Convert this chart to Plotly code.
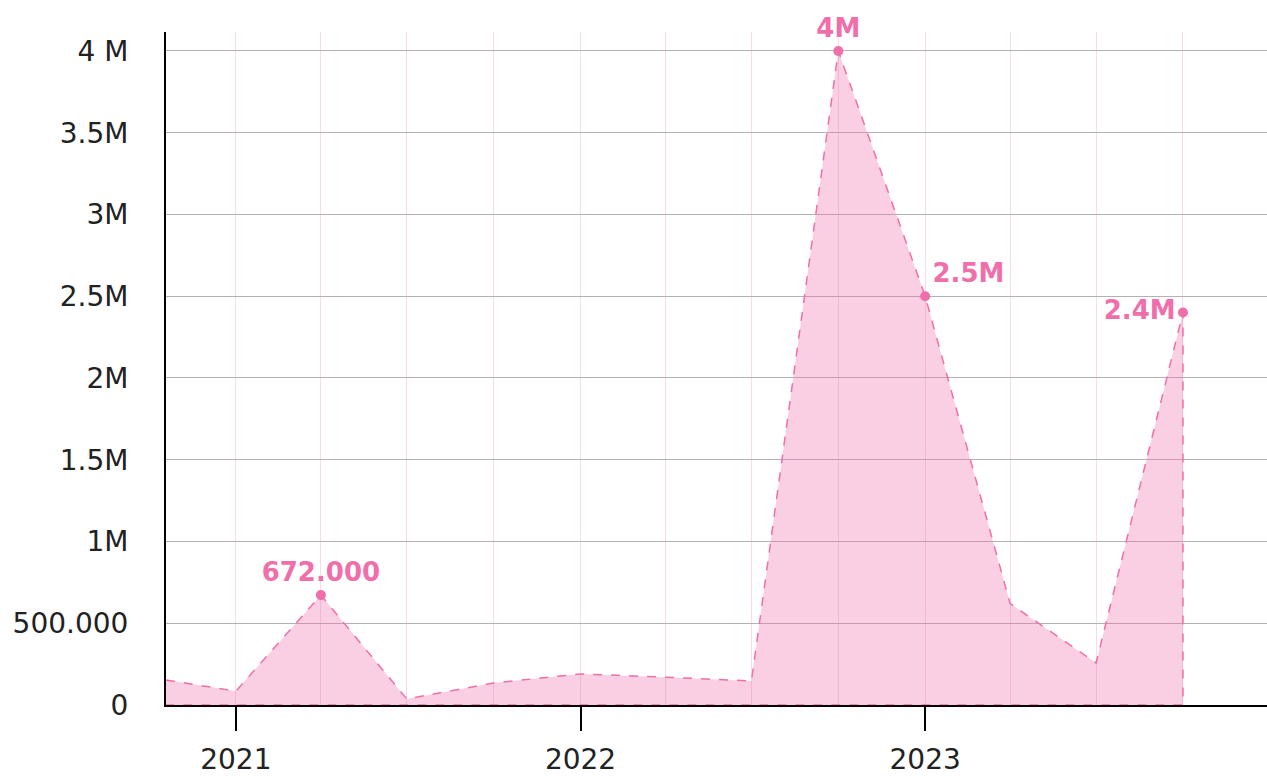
import plotly.graph_objects as go

# Quarterly values
dates = ["2020-10-19", "2021-01-01", "2021-04-01", "2021-07-01", "2021-10-01",
         "2022-01-01", "2022-04-01", "2022-07-01", "2022-10-01",
         "2023-01-01", "2023-04-01", "2023-07-01", "2023-10-01"]
values = [153000, 85000, 672000, 37000, 135000,
          190000, 170000, 147000, 4000000,
          2500000, 620000, 257000, 2400000]

# Highlighted points and their labels
label_dates = ["2021-04-01", "2022-10-01", "2023-01-01", "2023-10-01"]
label_values = [672000, 4000000, 2500000, 2400000]
label_text = ["672.000", "4M", "2.5M", "2.4M"]
label_pos = ["top center", "top center", "top right", "middle left"]

y_ticks = [0, 500000, 1000000, 1500000, 2000000, 2500000, 3000000, 3500000, 4000000]
y_tick_text = ["0", "500.000", "1M", "1.5M", "2M", "2.5M", "3M", "3.5M", "4 M"]

PINK = "#f06ea9"
FONT = "DejaVu Sans, sans-serif"

# Close the area polygon down to the baseline at both ends
area_x = dates + [dates[-1], dates[0]]
area_y = values + [0, 0]

fig = go.Figure()
fig.add_trace(go.Scatter(
    x=area_x, y=area_y, mode="lines", fill="toself",
    fillcolor="rgba(240,110,169,0.33)",
    line=dict(color=PINK, width=1.5, dash="dash"),
    hoverinfo="skip", showlegend=False,
))
fig.add_trace(go.Scatter(
    x=label_dates, y=label_values, mode="markers+text",
    marker=dict(color=PINK, size=10),
    text=label_text, textposition=label_pos,
    textfont=dict(family=FONT, size=26, color=PINK, weight="bold"),
    showlegend=False, cliponaxis=False,
))

fig.update_layout(
    width=1267, height=776,
    margin=dict(l=166, r=0, t=32, b=71),
    paper_bgcolor="white", plot_bgcolor="white",
    font=dict(family=FONT, size=28, color="#222"),
)
fig.update_xaxes(
    type="date", range=["2020-10-19", "2023-12-29"],
    dtick="M12", tick0="2021-01-01", tickformat="%Y",
    ticks="outside", ticklen=24, tickwidth=2, tickcolor="black",
    ticklabelstandoff=4,
    showgrid=True, gridcolor="#f7dbe7", gridwidth=1,
    minor=dict(dtick="M3", tick0="2021-01-01", showgrid=True,
               gridcolor="#f7dbe7", gridwidth=1, ticks=""),
    showline=True, linecolor="black", linewidth=2,
    tickfont=dict(family=FONT, size=28, color="#222"),
    zeroline=False,
)
fig.update_yaxes(
    range=[0, 4116000],
    tickvals=y_ticks, ticktext=y_tick_text,
    showgrid=True, gridcolor="#b5b0b3", gridwidth=1,
    showline=True, linecolor="black", linewidth=2,
    ticks="", ticklabelstandoff=30,
    tickfont=dict(family=FONT, size=28, color="#222"),
    zeroline=False,
)

fig.write_html("out.html")
